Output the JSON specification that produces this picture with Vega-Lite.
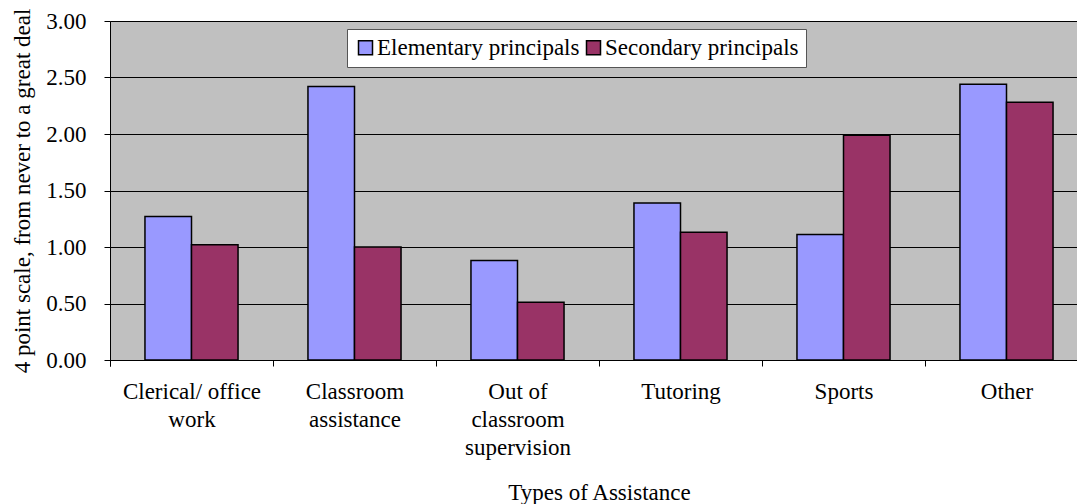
{
  "$schema": "https://vega.github.io/schema/vega-lite/v6.json",
  "autosize": {"type": "none"},
  "width": 967,
  "height": 339,
  "padding": {"left": 110, "top": 21, "right": 0, "bottom": 144},
  "background": "white",
  "config": {
    "font": "Liberation Serif",
    "view": {"fill": "#C0C0C0", "stroke": "#808080", "strokeWidth": 1},
    "axis": {
      "labelFont": "Liberation Serif",
      "titleFont": "Liberation Serif",
      "labelColor": "black",
      "titleColor": "black",
      "titleFontWeight": "normal",
      "domainColor": "black",
      "tickColor": "black"
    }
  },
  "data": {
    "values": [
      {"type": "Clerical/ office work", "group": "Elementary principals", "score": 1.27},
      {"type": "Clerical/ office work", "group": "Secondary principals", "score": 1.02},
      {"type": "Classroom assistance", "group": "Elementary principals", "score": 2.42},
      {"type": "Classroom assistance", "group": "Secondary principals", "score": 1.00},
      {"type": "Out of classroom supervision", "group": "Elementary principals", "score": 0.88},
      {"type": "Out of classroom supervision", "group": "Secondary principals", "score": 0.51},
      {"type": "Tutoring", "group": "Elementary principals", "score": 1.39},
      {"type": "Tutoring", "group": "Secondary principals", "score": 1.13},
      {"type": "Sports", "group": "Elementary principals", "score": 1.11},
      {"type": "Sports", "group": "Secondary principals", "score": 1.99},
      {"type": "Other", "group": "Elementary principals", "score": 2.44},
      {"type": "Other", "group": "Secondary principals", "score": 2.28}
    ]
  },
  "mark": {"type": "bar", "stroke": "black", "strokeWidth": 1.5},
  "encoding": {
    "x": {
      "field": "type",
      "type": "nominal",
      "sort": null,
      "scale": {"range": [0, 978], "paddingInner": 0.429, "paddingOuter": 0.2145},
      "axis": {
        "title": "Types of Assistance",
        "titleFontSize": 23,
        "titleX": 489,
        "titlePadding": 22,
        "labelFontSize": 23,
        "labelLineHeight": 28,
        "labelAngle": 0,
        "labelPadding": 14,
        "labelLimit": 300,
        "tickSize": 6,
        "bandPosition": 0,
        "tickOffset": -35,
        "tickExtra": true,
        "labelOffset": 35,
        "labelExpr": "datum.value == 'Clerical/ office work' ? ['Clerical/ office', 'work'] : datum.value == 'Classroom assistance' ? ['Classroom', 'assistance'] : datum.value == 'Out of classroom supervision' ? ['Out of', 'classroom', 'supervision'] : datum.value"
      }
    },
    "xOffset": {"field": "group", "type": "nominal", "sort": ["Elementary principals", "Secondary principals"], "scale": {"paddingInner": 0, "paddingOuter": 0}},
    "y": {
      "field": "score",
      "type": "quantitative",
      "scale": {"domain": [0, 3], "nice": false},
      "axis": {
        "title": "4 point scale, from never to a great deal",
        "titleFontSize": 23,
        "titlePadding": 11,
        "values": [0, 0.5, 1, 1.5, 2, 2.5, 3],
        "format": ".2f",
        "labelFontSize": 23,
        "labelPadding": 18,
        "tickSize": 6,
        "grid": true,
        "gridColor": "black",
        "gridWidth": 1,
        "gridOpacity": 1
      }
    },
    "color": {
      "field": "group",
      "type": "nominal",
      "sort": ["Elementary principals", "Secondary principals"],
      "scale": {"domain": ["Elementary principals", "Secondary principals"], "range": ["#9999FF", "#993366"]},
      "legend": {
        "title": null,
        "orient": "none",
        "legendX": 237,
        "legendY": 8,
        "direction": "horizontal",
        "fillColor": "white",
        "strokeColor": "#555555",
        "padding": 7,
        "symbolType": "square",
        "symbolSize": 196,
        "symbolStrokeColor": "black",
        "symbolStrokeWidth": 1.5,
        "symbolOpacity": 1,
        "labelFont": "Liberation Serif",
        "labelFontSize": 23,
        "labelColor": "black",
        "labelLimit": 400,
        "labelOffset": 0,
        "columnPadding": 2
      }
    }
  }
}
